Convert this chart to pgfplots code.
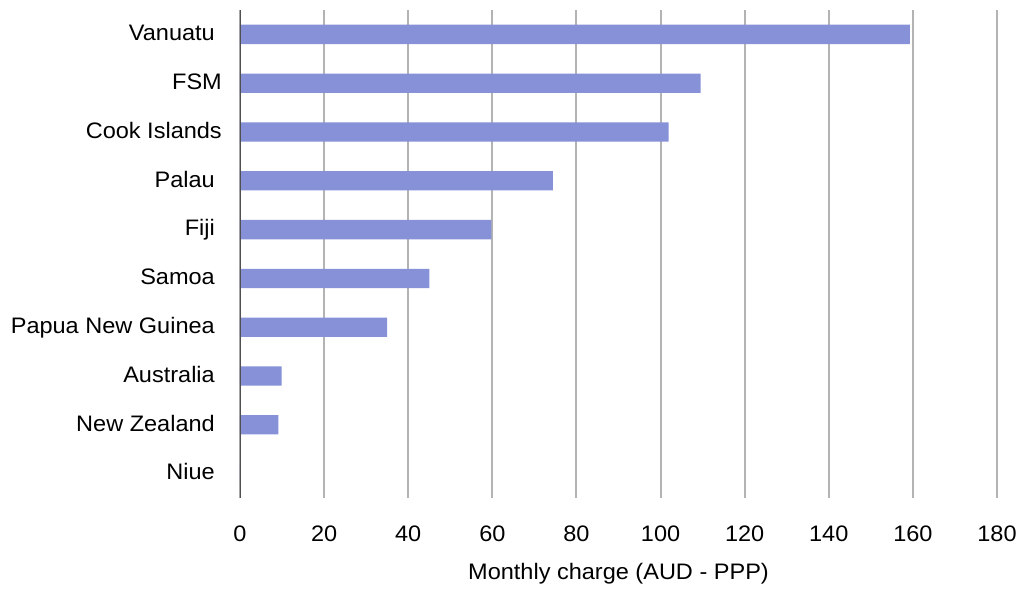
\documentclass[border=0pt]{standalone}
\usepackage{fontspec}
\setmainfont{Liberation Sans}[FakeStretch=1.05]
\usepackage{pgfplots}
\pgfplotsset{compat=1.18}
\definecolor{barblue}{RGB}{134,145,216}
\definecolor{gridgray}{RGB}{179,179,179}
\definecolor{axisgray}{RGB}{80,80,80}
\newcommand{\chartfont}{\fontsize{22.4pt}{27pt}\selectfont}

\begin{document}
\chartfont
\begin{tikzpicture}
\begin{axis}[
  at={(0,0)}, anchor=south west,
  scale only axis, width=757pt, height=488pt,
  xmin=0, xmax=180, ymin=-0.5, ymax=9.5, y dir=reverse,
  xtick={0,20,...,180}, ytick={0,...,9},
  yticklabels={Vanuatu, FSM\kern-7pt, Cook Islands\kern-7pt, Palau, Fiji, Samoa,
               Papua New Guinea, Australia, New Zealand, Niue},
  axis line style={draw=none},
  major tick length=0pt,
  xmajorgrids, major grid style={gridgray, line width=2pt},
  xbar, bar width=19.3pt,
  /pgf/number format/assume math mode=true,
  tick label style={font=\chartfont, inner sep=0pt},
  xticklabel style={anchor=base, yshift=-43pt},
  yticklabel style={anchor=base east, xshift=-25pt, yshift=-6.2pt},
  xlabel={Monthly charge (AUD - PPP)},
  xlabel style={font=\chartfont, inner sep=0pt, at={(axis description cs:0.5,0)},
                anchor=base, yshift=-81.3pt},
]
\addplot[fill=barblue, draw=none] coordinates {
  (159.3,0) (109.5,1) (101.9,2) (74.4,3) (59.8,4)
  (45.0,5) (35.0,6) (9.9,7) (9.1,8) (0,9)};
\draw[axisgray, line width=1.5pt] (axis cs:0,-0.5) -- (axis cs:0,9.5);
\end{axis}
\path[use as bounding box] (-240pt,-92pt) rectangle (784pt,498pt);
\end{tikzpicture}
\end{document}
